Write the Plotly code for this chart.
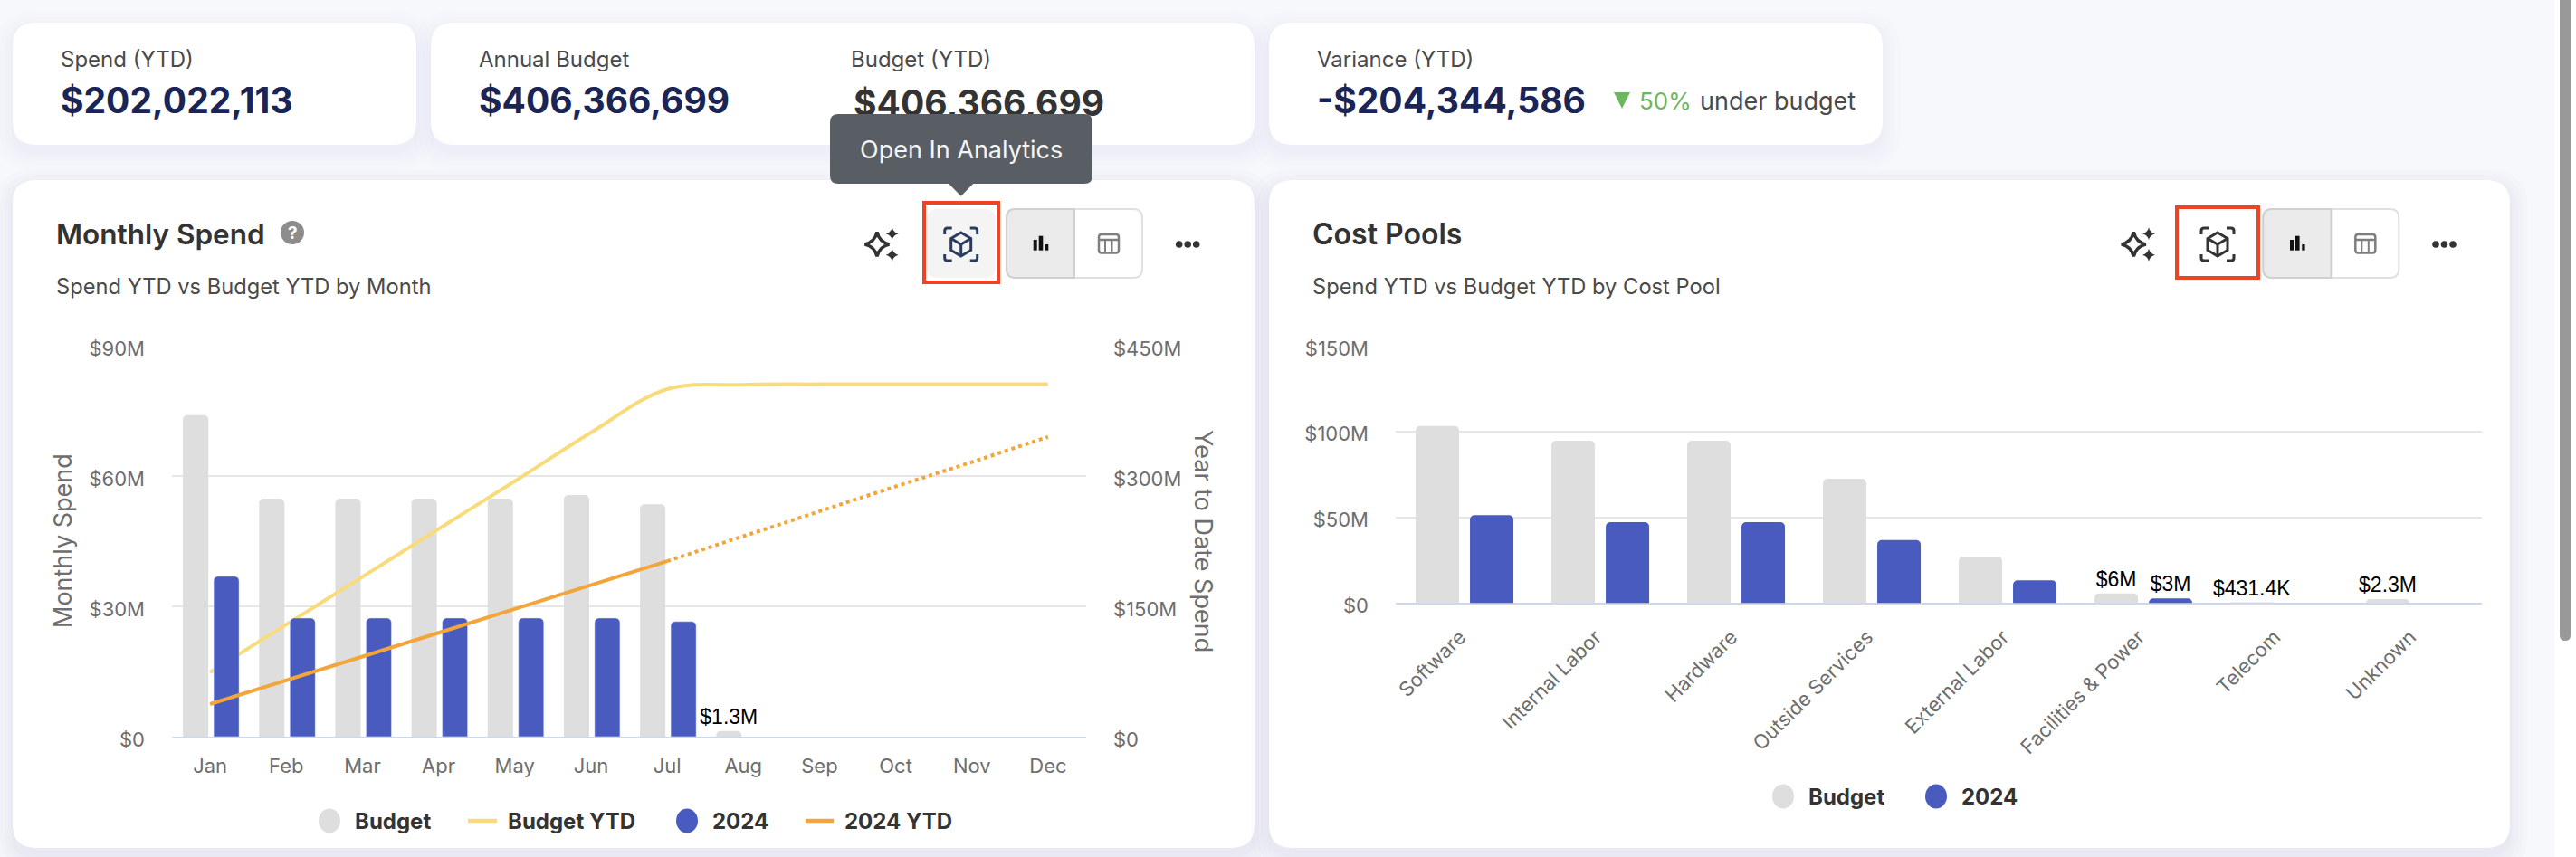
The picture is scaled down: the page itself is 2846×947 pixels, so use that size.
# Panel de gastos: tarjetas KPI, Monthly Spend y Cost Pools
import plotly.graph_objects as go

W, H = 2846, 947

# Datos
months = ["Jan", "Feb", "Mar", "Apr", "May", "Jun", "Jul", "Aug", "Sep", "Oct", "Nov", "Dec"]
monthly_budget = [74.0, 54.8, 54.8, 54.8, 54.8, 55.6, 53.5, 1.3, None, None, None, None]
monthly_2024 = [36.9, 27.3, 27.3, 27.3, 27.3, 27.3, 26.5, None, None, None, None, None]
monthly_budget_labels = ["", "", "", "", "", "", "", "$1.3M", "", "", "", ""]
budget_ytd = [74, 129, 184, 239, 294, 350, 400, 405, 405.6, 405.6, 405.6, 405.6]
spend_ytd = [37.5, 64.5, 92, 119.5, 147, 174.5, 202, None, None, None, None, None]
spend_ytd_projected = [None, None, None, None, None, None, 202, 231, 259.5, 288, 316, 345]

pools = ["Software", "Internal Labor", "Hardware", "Outside Services", "External Labor",
         "Facilities & Power", "Telecom", "Unknown"]
pool_budget = [103.1, 94.5, 94.5, 72.4, 27.1, 5.6, 0.4314, 2.3]
pool_2024 = [51.2, 47.1, 47.1, 36.7, 13.3, 2.7, None, None]
pool_budget_labels = ["", "", "", "", "", "$6M", "$431.4K", "$2.3M"]
pool_2024_labels = ["", "", "", "", "", "$3M", "", ""]

month_ticks = [0, 30, 60, 90]
month_ticktext = ["$0", "$30M", "$60M", "$90M"]
ytd_ticks = [0, 150, 300, 450]
ytd_ticktext = ["$0", "$150M", "$300M", "$450M"]
pool_ticks = [0, 50, 100, 150]
pool_ticktext = ["$0", "$50M", "$100M", "$150M"]

GREY = "#DEDEDE"
BLUE = "#4A5BC0"
YELLOW = "#F8DC7C"
ORANGE = "#F2A53A"
NAVY = "#1A2555"
DARK = "#333333"
TICK = "#6E6E6E"
LABEL = "#4A4A4A"
FONT = "Inter"


def px(x):
    return f"{x / W:.6f}"


def py(y):
    return f"{1 - y / H:.6f}"


def pt(x, y):
    return f"{px(x)} {py(y)}"


def rounded(x0, y0, x1, y1, r):
    return (f"M {pt(x0 + r, y0)} L {pt(x1 - r, y0)} Q {pt(x1, y0)} {pt(x1, y0 + r)} "
            f"L {pt(x1, y1 - r)} Q {pt(x1, y1)} {pt(x1 - r, y1)} "
            f"L {pt(x0 + r, y1)} Q {pt(x0, y1)} {pt(x0, y1 - r)} "
            f"L {pt(x0, y0 + r)} Q {pt(x0, y0)} {pt(x0 + r, y0)} Z")


def poly(points, close=False):
    s = "M " + " L ".join(pt(x, y) for x, y in points)
    return s + " Z" if close else s


def star(cx, cy, s):
    k = s * 0.18
    return (f"M {pt(cx, cy - s)} Q {pt(cx + k, cy - k)} {pt(cx + s, cy)} "
            f"Q {pt(cx + k, cy + k)} {pt(cx, cy + s)} "
            f"Q {pt(cx - k, cy + k)} {pt(cx - s, cy)} "
            f"Q {pt(cx - k, cy - k)} {pt(cx, cy - s)} Z")


fig = go.Figure()


def shape(path, fill="rgba(0,0,0,0)", line=None, width=0, layer="above", opacity=1):
    fig.add_shape(type="path", xref="paper", yref="paper", path=path, fillcolor=fill,
                  line=dict(color=line or "rgba(0,0,0,0)", width=width), layer=layer, opacity=opacity)


def circle(cx, cy, rx, ry, color):
    fig.add_shape(type="circle", xref="paper", yref="paper", x0=(cx - rx) / W, x1=(cx + rx) / W,
                  y0=1 - (cy + ry) / H, y1=1 - (cy - ry) / H, fillcolor=color, line=dict(width=0), layer="above")


def text(x, y, s, size, color, weight=400, anchor="left", family=FONT):
    fig.add_annotation(xref="paper", yref="paper", x=x / W, y=1 - y / H, text=s, showarrow=False,
                       xanchor=anchor, yanchor="middle", borderpad=0,
                       font=dict(family=family, size=size, color=color, weight=weight))


def card(x0, y0, x1, y1, strength=1.0):
    # sombra hecha con varias capas translucidas
    for grow in [2, 5, 9, 14, 20]:
        shape(rounded(x0 - grow, y0 - grow + 8, x1 + grow, y1 + grow + 8, 24 + grow),
              fill=NAVY, layer="below", opacity=0.012 * strength)
    shape(rounded(x0, y0, x1, y1, 26), fill="white", layer="below")


card(14, 25, 460, 160, 0.6)
card(476, 25, 1386, 160, 0.6)
card(1402, 25, 2080, 160, 0.6)
card(14, 199, 1386, 937, 0.9)
card(1402, 199, 2773, 937, 0.9)

# barra de scroll
shape(poly([(2822, 0), (2846, 0), (2846, 947), (2822, 947)], True), fill="white", layer="below")
shape(rounded(2828, -20, 2840, 708, 6), fill="#999999", layer="below")

# tarjetas KPI
text(66, 65, "Spend (YTD)", 24, LABEL)
text(66, 111, "$202,022,113", 39, NAVY, 700)
text(528, 65, "Annual Budget", 24, LABEL)
text(528, 111, "$406,366,699", 39, NAVY, 700)
text(939, 65, "Budget (YTD)", 24, LABEL)
text(1454, 65, "Variance (YTD)", 24, LABEL)
text(1454, 111, "-$204,344,586", 39, NAVY, 700)
shape(poly([(1783, 102), (1801, 102), (1792, 120)], True), fill="#6CB65E")
text(1810, 112, "50%", 26, "#6CB65E")
text(1877, 112, "under budget", 27, LABEL)

# este valor queda tapado por el tooltip, por eso va como etiqueta de shape
fig.add_shape(type="rect", xref="paper", yref="paper", x0=940 / W, x1=1220 / W, y0=1 - 131 / H, y1=1 - 93 / H,
              line=dict(width=0), fillcolor="rgba(0,0,0,0)", layer="above",
              label=dict(text="<b>$406,366,699</b>", textposition="middle left", padding=0,
                         font=dict(family=FONT, size=39, color=DARK)))

# cabeceras de cada panel
text(61, 258, "Monthly Spend", 31.5, DARK, 600)
text(61, 317, "Spend YTD vs Budget YTD by Month", 23.7, LABEL)
circle(323, 257, 13, 13, "#8F8C8C")
text(323, 257, "?", 19, "white", 700, "center")
text(1449, 258, "Cost Pools", 32, DARK, 600)
text(1449, 317, "Spend YTD vs Budget YTD by Cost Pool", 23.7, LABEL)


def toolbar(dx, icon_color, hover):
    c = 1061.7 + dx
    # estrellas
    shape(star(969 + dx, 270, 13.5), line=DARK, width=3.5)
    shape(star(985.7 + dx, 258.3, 7), fill=DARK)
    shape(star(985.7 + dx, 281.7, 7), fill=DARK)
    if hover:
        shape(rounded(1024 + dx, 231, 1100 + dx, 307, 12), fill="#F4F4F5")
    # cubo
    hexa = [(c, 257), (c + 11, 263.5), (c + 11, 276.5), (c, 283), (c - 11, 276.5), (c - 11, 263.5)]
    shape(poly(hexa, True), line=icon_color, width=3)
    shape(poly([(c - 11, 263.5), (c, 270), (c + 11, 263.5)]), line=icon_color, width=3)
    shape(poly([(c, 270), (c, 283)]), line=icon_color, width=3)
    for sx, sy in [(-1, -1), (1, -1), (-1, 1), (1, 1)]:
        shape(f"M {pt(c + sx * 10, 270 + sy * 18)} L {pt(c + sx * 15, 270 + sy * 18)} "
              f"Q {pt(c + sx * 18, 270 + sy * 18)} {pt(c + sx * 18, 270 + sy * 15)} "
              f"L {pt(c + sx * 18, 270 + sy * 11)}", line=icon_color, width=3)
    # selector grafico / tabla
    shape(rounded(1112 + dx, 231, 1262 + dx, 307, 10), fill="white", line="#E0E0E0", width=2)
    shape(f"M {pt(1187 + dx, 231)} L {pt(1122 + dx, 231)} Q {pt(1112 + dx, 231)} {pt(1112 + dx, 241)} "
          f"L {pt(1112 + dx, 297)} Q {pt(1112 + dx, 307)} {pt(1122 + dx, 307)} L {pt(1187 + dx, 307)} Z",
          fill="#EBEBEB", line="#D0D0D0", width=2)
    for x0, x1, top in [(1141.7, 1145.7, 265), (1147.7, 1152.3, 260.7), (1155, 1158.3, 270)]:
        shape(poly([(x0 + dx, top), (x1 + dx, top), (x1 + dx, 276.7), (x0 + dx, 276.7)], True), fill="#111111")
    shape(rounded(1214 + dx, 259, 1236 + dx, 279.5, 3), line="#7F7F7F", width=2.5)
    shape(poly([(1214 + dx, 265), (1236 + dx, 265)]), line="#7F7F7F", width=2.5)
    shape(poly([(1221 + dx, 265), (1221 + dx, 279)]), line="#7F7F7F", width=2)
    shape(poly([(1228.5 + dx, 265), (1228.5 + dx, 279)]), line="#7F7F7F", width=2)
    # menu
    for x in [1302.7, 1312.2, 1321.7]:
        circle(x + dx, 270, 3.8, 3.8, DARK)


toolbar(0, "#2B3D5E", True)
toolbar(1388.3, DARK, False)
shape(poly([(1021, 224), (1103, 224), (1103, 312), (1021, 312)], True), line="#EE4426", width=4)
shape(poly([(2405, 229), (2495, 229), (2495, 307), (2405, 307)], True), line="#EE4426", width=4)

# tooltip
shape(rounded(917, 126, 1207, 203, 9), fill="#595E65")
shape(poly([(1047.7, 202.5), (1075.7, 202.5), (1061.7, 216.7)], True), fill="#595E65")
text(1061.7, 165, "Open In Analytics", 27, "#F5F5F5", 400, "center")


# leyendas a mano: circulos para barras y trazos para lineas
def dash(x0, x1, cy, color):
    shape(poly([(x0, cy), (x1, cy)]), line=color, width=4.5)


circle(364, 907, 12, 13.5, GREY)
text(391, 907, "Budget", 24, DARK, 700)
dash(517, 549, 907, YELLOW)
text(560, 907, "Budget YTD", 24, DARK, 700)
circle(759, 907, 12, 13.5, BLUE)
text(786, 907, "2024", 24, DARK, 700)
dash(890, 921, 907, ORANGE)
text(932, 907, "2024 YTD", 24, DARK, 700)

circle(1970, 880, 12, 13.5, GREY)
text(1997, 880, "Budget", 24, DARK, 700)
circle(2139, 880, 12, 13.5, BLUE)
text(2166, 880, "2024", 24, DARK, 700)

# titulos de los ejes del primer grafico
fig.add_annotation(xref="paper", yref="paper", x=69 / W, y=1 - 598 / H, text="Monthly Spend", showarrow=False,
                   textangle=-90, xanchor="center", yanchor="middle", font=dict(family=FONT, size=27, color=TICK))
fig.add_annotation(xref="paper", yref="paper", x=1330 / W, y=1 - 598 / H, text="Year to Date Spend", showarrow=False,
                   textangle=90, xanchor="center", yanchor="middle", font=dict(family=FONT, size=27, color=TICK))

# Monthly Spend: cada serie en su eje superpuesto para respetar el orden de dibujo
LABEL_FONT = dict(family="Liberation Sans", size=23, color="black")
# borde transparente: separa un poco mas las etiquetas de la barra
CLEAR_LINE = dict(width=10, color="rgba(0,0,0,0)")
fig.add_trace(go.Bar(x=months, y=monthly_budget, name="Budget", marker=dict(color=GREY, line=CLEAR_LINE),
                     width=0.333, offset=-0.356,
                     text=monthly_budget_labels, textposition="outside", cliponaxis=False, constraintext="none",
                     textfont=LABEL_FONT, xaxis="x", yaxis="y"))
fig.add_trace(go.Scatter(x=months, y=budget_ytd, name="Budget YTD", mode="lines",
                         line=dict(color=YELLOW, width=4, shape="spline", smoothing=1), xaxis="x", yaxis="y2"))
fig.add_trace(go.Bar(x=months, y=monthly_2024, name="2024", marker_color=BLUE, width=0.333, offset=0.0475,
                     xaxis="x", yaxis="y3"))
fig.add_trace(go.Scatter(x=months, y=spend_ytd, name="2024 YTD", mode="lines",
                         line=dict(color=ORANGE, width=4), xaxis="x", yaxis="y4"))
fig.add_trace(go.Scatter(x=months, y=spend_ytd_projected, name="2024 YTD (projected)", mode="lines",
                         line=dict(color=ORANGE, width=4, dash="4px,4px"), xaxis="x", yaxis="y4"))

# Cost Pools
fig.add_trace(go.Bar(x=pools, y=pool_budget, name="Budget", marker=dict(color=GREY, line=CLEAR_LINE),
                     width=0.32, offset=-0.353,
                     text=pool_budget_labels, textposition="outside", cliponaxis=False, constraintext="none",
                     textfont=LABEL_FONT, xaxis="x2", yaxis="y5"))
fig.add_trace(go.Bar(x=pools, y=pool_2024, name="2024", marker=dict(color=BLUE, line=CLEAR_LINE),
                     width=0.32, offset=0.047,
                     text=pool_2024_labels, textposition="outside", cliponaxis=False, constraintext="none",
                     textfont=LABEL_FONT, xaxis="x2", yaxis="y5"))

tickfont = dict(family=FONT, size=22, color=TICK)
base_x = dict(type="category", showgrid=False, showline=True, linecolor="#CDD7EC", linewidth=2, ticks="",
              tickfont=tickfont, layer="below traces", zeroline=False, automargin=False)
base_y = dict(showgrid=True, gridcolor="#E6E6E6", gridwidth=2, showline=False, ticks="", zeroline=False,
              tickfont=tickfont, ticklabelstandoff=29, ticklabelshift=3, automargin=False)
dom_y1 = [1 - 814 / H, 1 - 382 / H]
dom_y2 = [1 - 666.4 / H, 1 - 381.8 / H]

fig.update_layout(
    width=W, height=H, margin=dict(l=0, r=0, t=0, b=0, autoexpand=False), autosize=False,
    paper_bgcolor="#F7F8FC", plot_bgcolor="rgba(0,0,0,0)", showlegend=False,
    barmode="overlay", barcornerradius=5, font=dict(family=FONT),
    xaxis=dict(base_x, domain=[190 / W, 1200 / W], anchor="y", categoryorder="array", categoryarray=months,
               ticklabelstandoff=12),
    xaxis2=dict(base_x, domain=[1542 / W, 2742 / W], anchor="y5", categoryorder="array", categoryarray=pools,
                tickangle=-45, ticklabelstandoff=14, ticklabelshift=-4),
    yaxis=dict(base_y, domain=dom_y1, range=[0, 90], tickvals=month_ticks, ticktext=month_ticktext, anchor="x"),
    yaxis2=dict(base_y, range=[0, 450], tickvals=ytd_ticks, ticktext=ytd_ticktext, overlaying="y", side="right",
                anchor="x", showgrid=False),
    yaxis3=dict(range=[0, 90], overlaying="y", anchor="x", visible=False),
    yaxis4=dict(range=[0, 450], overlaying="y", anchor="x", visible=False),
    yaxis5=dict(base_y, domain=dom_y2, range=[0, 150], tickvals=pool_ticks, ticktext=pool_ticktext, anchor="x2"),
)

fig.write_html("out.html", config=dict(displayModeBar=False),
               post_script="document.body.style.margin='0';document.body.style.overflow='hidden';")
